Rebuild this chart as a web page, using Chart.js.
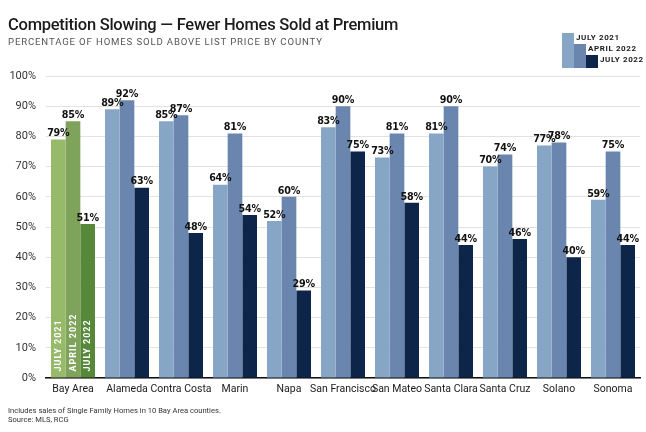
<!DOCTYPE html>
<html>
<head>
<meta charset="utf-8">
<script src="https://cdn.jsdelivr.net/npm/chart.js@4/dist/chart.umd.min.js"></script>
<style>
  html, body { margin: 0; padding: 0; background: #fff; }
  #wrap { position: relative; width: 646px; height: 432px; overflow: hidden; }
  canvas { position: absolute; left: 0; top: 0; }
  .t { position: absolute; left: 8px; white-space: nowrap; font-family: Roboto, "Liberation Sans", sans-serif; }
  #title { top: 15px; font-size: 16.5px; letter-spacing: -0.25px; font-weight: 500; color: #1b1b1b; }
  #sub { top: 36px; font-size: 9.6px; letter-spacing: 0.85px; color: #555; }
  #foot { top: 406px; font-size: 7.6px; line-height: 9px; color: #333; }
</style>
</head>
<body>
<div id="wrap">
  <canvas id="c" width="646" height="432"></canvas>
  <div class="t" id="title">Competition Slowing — Fewer Homes Sold at Premium</div>
  <div class="t" id="sub">PERCENTAGE OF HOMES SOLD ABOVE LIST PRICE BY COUNTY</div>
  <div class="t" id="foot">Includes sales of Single Family Homes in 10 Bay Area counties.<br>Source: MLS, RCG</div>
</div>
<script>
const categories = ["Bay Area", "Alameda", "Contra Costa", "Marin", "Napa", "San Francisco", "San Mateo", "Santa Clara", "Santa Cruz", "Solano", "Sonoma"];
const seriesNames = ["JULY 2021", "APRIL 2022", "JULY 2022"];
const july2021 = [79, 89, 85, 64, 52, 83, 73, 81, 70, 77, 59];
const april2022 = [85, 92, 87, 81, 60, 90, 81, 90, 74, 78, 75];
const july2022 = [51, 63, 48, 54, 29, 75, 58, 44, 46, 40, 44];
const yTicks = [0, 10, 20, 30, 40, 50, 60, 70, 80, 90, 100];

const blue = ["#87a6c6", "#6a86ae", "#0d2549"];
const green = ["#97b96a", "#80a35b", "#578839"];

function colorsFor(i) {
  return categories.map((c, k) => k === 0 ? green[i] : blue[i]);
}

const valueLabels = {
  id: 'valueLabels',
  afterDatasetsDraw(chart) {
    const ctx = chart.ctx;
    ctx.save();
    ctx.font = 'bold 9.6px "DejaVu Sans", sans-serif';
    ctx.letterSpacing = '-0.2px';
    ctx.fillStyle = '#111';
    ctx.textAlign = 'center';
    ctx.textBaseline = 'bottom';
    chart.data.datasets.forEach((ds, di) => {
      const meta = chart.getDatasetMeta(di);
      meta.data.forEach((bar, k) => {
        ctx.fillText(ds.data[k] + '%', bar.x, bar.y - 1);
      });
    });
    // rotated labels inside Bay Area bars
    ctx.font = 'bold 9px Roboto, "Liberation Sans", sans-serif';
    ctx.letterSpacing = '1px';
    ctx.fillStyle = '#ffffff';
    ctx.textAlign = 'left';
    ctx.textBaseline = 'middle';
    chart.data.datasets.forEach((ds, di) => {
      const bar = chart.getDatasetMeta(di).data[0];
      ctx.save();
      ctx.translate(bar.x + 0.5, bar.base - 6);
      ctx.rotate(-Math.PI / 2);
      ctx.fillText(ds.label, 0, 0);
      ctx.restore();
    });
    ctx.restore();
  }
};

const cornerLegend = {
  id: 'cornerLegend',
  afterDraw(chart) {
    const ctx = chart.ctx;
    ctx.save();
    const baseY = 68, x0 = 562, w = 12;
    const tops = [33, 44, 55];
    ctx.font = 'bold 8px Roboto, "Liberation Sans", sans-serif';
    ctx.letterSpacing = '0.6px';
    ctx.textBaseline = 'middle';
    ctx.textAlign = 'left';
    chart.data.datasets.forEach((ds, i) => {
      const x = x0 + i * w;
      ctx.fillStyle = blue[i];
      ctx.fillRect(x, tops[i], w, baseY - tops[i]);
      ctx.fillStyle = '#1a1a1a';
      ctx.fillText(ds.label, x + w + 2, tops[i] + 5);
    });
    ctx.restore();
  }
};

new Chart(document.getElementById('c'), {
  type: 'bar',
  data: {
    labels: categories,
    datasets: [
      { label: seriesNames[0], data: july2021, backgroundColor: colorsFor(0) },
      { label: seriesNames[1], data: april2022, backgroundColor: colorsFor(1) },
      { label: seriesNames[2], data: july2022, backgroundColor: colorsFor(2) }
    ]
  },
  options: {
    responsive: false,
    animation: false,
    devicePixelRatio: 1,
    layout: { padding: { left: 0, right: 6, top: 76, bottom: 30 } },
    datasets: { bar: { categoryPercentage: 0.815, barPercentage: 1.0, borderWidth: 0 } },
    plugins: { legend: { display: false }, tooltip: { enabled: false }, title: { display: false } },
    scales: {
      x: {
        grid: { display: false, drawTicks: false },
        border: { display: true, color: '#111', width: 1.5 },
        ticks: { color: '#1a1a1a', font: { family: 'Roboto, "Liberation Sans", sans-serif', size: 10.5 }, padding: 5, maxRotation: 0, autoSkip: false },
        afterFit(s) { s.height = 24; }
      },
      y: {
        min: 0, max: 100,
        afterBuildTicks(s) { s.ticks = yTicks.map(v => ({ value: v })); },
        grid: { color: '#e2e2e2', lineWidth: 1, drawTicks: false },
        border: { display: false },
        ticks: { color: '#333', font: { family: 'Roboto, "Liberation Sans", sans-serif', size: 11 }, padding: 10, callback: v => v + '%' },
        afterFit(s) { s.width = 46; }
      }
    }
  },
  plugins: [valueLabels, cornerLegend]
});
</script>
</body>
</html>
